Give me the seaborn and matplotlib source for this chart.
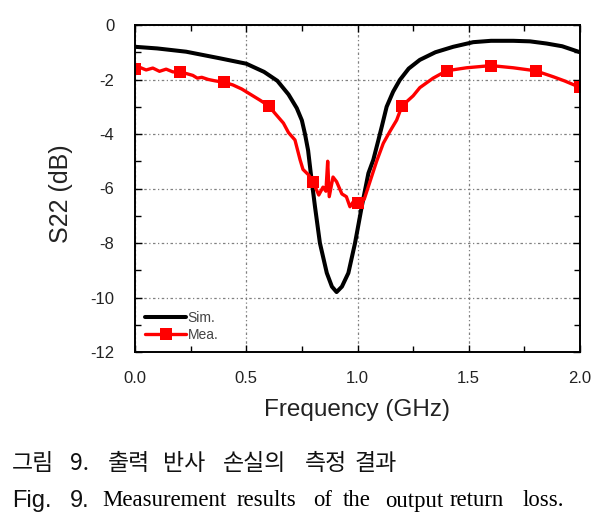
import numpy as np
import pandas as pd
import matplotlib
matplotlib.use("Agg")
import matplotlib.pyplot as plt
import seaborn as sns

# simulated S22
sim_freq = [0.0, 0.1, 0.23, 0.38, 0.5, 0.58, 0.64, 0.69, 0.727, 0.75, 0.764, 0.778,
            0.79, 0.809, 0.831, 0.862, 0.885, 0.906, 0.93, 0.959, 0.989, 1.019, 1.049,
            1.071, 1.094, 1.11, 1.131, 1.16, 1.19, 1.23, 1.28, 1.35, 1.43, 1.52, 1.6,
            1.7, 1.775, 1.85, 1.92, 2.0]
sim_s22 = [-0.80, -0.86, -0.98, -1.22, -1.42, -1.72, -2.05, -2.55, -3.05, -3.5, -4.0, -4.6,
           -5.44, -6.67, -8.0, -9.1, -9.6, -9.8, -9.6, -9.1, -8.0, -6.67, -5.44,
           -4.95, -4.22, -3.7, -3.0, -2.45, -2.02, -1.6, -1.28, -1.0, -0.8, -0.63, -0.58,
           -0.58, -0.6, -0.68, -0.78, -1.0]

# measured S22
mea_freq = [0.0, 0.02, 0.05, 0.08, 0.11, 0.14, 0.17, 0.2, 0.23, 0.26, 0.28, 0.3, 0.33,
            0.36, 0.4, 0.44, 0.48, 0.52, 0.56, 0.6, 0.63, 0.667, 0.69, 0.719, 0.742,
            0.755, 0.78, 0.8, 0.826, 0.845, 0.858, 0.866, 0.873, 0.89, 0.906, 0.93,
            0.95, 0.966, 0.98, 1.0, 1.01, 1.03, 1.056, 1.086, 1.116, 1.146, 1.176, 1.2,
            1.25, 1.28, 1.34, 1.4, 1.49, 1.6, 1.7, 1.8, 1.88, 1.93, 2.0]
mea_s22 = [-1.62, -1.55, -1.65, -1.58, -1.7, -1.62, -1.72, -1.72, -1.78, -1.85, -1.95, -1.92, -2.0,
           -2.05, -2.1, -2.2, -2.35, -2.55, -2.75, -2.96, -3.25, -3.6, -3.95, -4.22, -4.95,
           -5.3, -5.5, -5.75, -6.24, -5.95, -6.1, -5.0, -6.3, -5.58, -5.75, -6.2,
           -6.3, -6.67, -6.5, -6.52, -6.55, -6.4, -5.75, -5.0, -4.34, -3.9, -3.49, -2.97,
           -2.6, -2.3, -1.95, -1.68, -1.57, -1.49, -1.57, -1.68, -1.9, -2.05, -2.29]
marker_freq = [0.0, 0.2, 0.4, 0.6, 0.8, 1.0, 1.2, 1.4, 1.6, 1.8, 2.0]

x_ticks = [0.0, 0.5, 1.0, 1.5, 2.0]
x_tick_labels = ["0.0", "0.5", "1.0", "1.5", "2.0"]
y_ticks = [0, -2, -4, -6, -8, -10, -12]

cap_ko_words = ["그림", "9.", "출력", "반사", "손실의", "측정", "결과"]
cap_ko_x = [12, 70, 108, 163, 223, 305, 355]
cap_en_words = ["Measurement", "results", "of", "the", "output", "return", "loss."]
cap_en_x = [102, 237, 313, 343, 385, 450, 523]

sim = pd.DataFrame({"freq": sim_freq, "s22": sim_s22})
mea = pd.DataFrame({"freq": mea_freq, "s22": mea_s22})
mark_idx = [i for i, f in enumerate(mea_freq) if np.any(np.isclose(f, marker_freq))]

sns.set_style("ticks")
plt.rcParams["font.family"] = ["Liberation Sans", "DejaVu Sans"]
plt.rcParams["axes.unicode_minus"] = False

fig = plt.figure(figsize=(6.07, 5.26), dpi=100)
ax = fig.add_axes([135 / 607, 1 - 352 / 526, 445 / 607, 327 / 526])

sns.lineplot(data=sim, x="freq", y="s22", ax=ax, color="black", lw=2.9,
             label="Sim.", sort=False, estimator=None)
sns.lineplot(data=mea, x="freq", y="s22", ax=ax, color="#ff0000", lw=2.4,
             marker="s", markersize=8, markevery=mark_idx, markeredgewidth=0,
             label="Mea.", sort=False, estimator=None)

ax.set_xlim(0, 2.0)
ax.set_ylim(-12, 0)
ax.set_xticks(x_ticks)
ax.set_xticklabels(x_tick_labels)
ax.set_yticks(y_ticks)
ax.set_xticks([0.25, 0.75, 1.25, 1.75], minor=True)
ax.set_yticks([-1, -3, -5, -7, -9, -11], minor=True)
ax.tick_params(which="both", direction="in", top=True, right=True, labelsize=12,
               colors="black")
ax.tick_params(axis="x", pad=14)
ax.tick_params(axis="y", pad=15)
ax.tick_params(which="major", length=5, width=1)
ax.tick_params(which="minor", length=4, width=1)
for lab in ax.get_xticklabels() + ax.get_yticklabels():
    lab.set_color("#222222")

ax.grid(True, which="major", color="#808080", lw=0.9, linestyle=(0, (2, 2, 1, 2)))
for sp in ax.spines.values():
    sp.set_linewidth(1.4)
    sp.set_color("black")

ax.set_xlabel("Frequency (GHz)", fontsize=17.5, color="#222222", labelpad=9)
ax.set_ylabel("S22 (dB)", fontsize=18, color="#222222")
ax.yaxis.set_label_coords(-0.14, 0.483)

leg = ax.legend(loc="lower left", frameon=False, fontsize=10, handlelength=3.0,
                handletextpad=0.1, labelspacing=0.25, borderaxespad=0.4,
                borderpad=0.3)
for t in leg.get_texts():
    t.set_color("#444444")

for w, x in zip(cap_ko_words, cap_ko_x):
    fig.text(x / 607, 1 - 463 / 526, w, fontsize=16.5, va="center", ha="left",
             family=["Noto Sans CJK KR", "DejaVu Sans"], color="#111111")
fig.text(12 / 607, 1 - 501 / 526, "Fig.", fontsize=17, va="center", ha="left",
         family=["Liberation Sans"], color="#111111")
fig.text(70 / 607, 1 - 501 / 526, "9.", fontsize=17, va="center", ha="left",
         family=["Liberation Sans"], color="#111111")
for w, x in zip(cap_en_words, cap_en_x):
    fig.text(x / 607, 1 - 501 / 526, w, fontsize=16.4, va="center", ha="left",
             family=["Liberation Serif"], color="black")

fig.savefig("out.png", dpi=100)
